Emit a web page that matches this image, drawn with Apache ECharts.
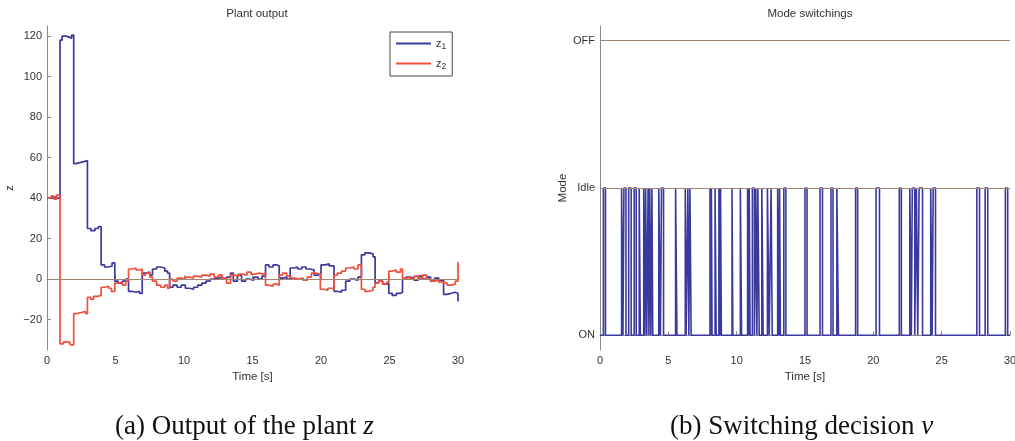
<!DOCTYPE html>
<html><head><meta charset="utf-8">
<script src="https://cdn.jsdelivr.net/npm/echarts@6/dist/echarts.min.js"></script>
<style>html,body{margin:0;padding:0;background:#fff}#c{width:1015px;height:441px}</style>
</head><body><div id="c"></div>
<script>
// ---- Plant output z1 (time [s], value) ----
const z1Time = [0,0.3,0.6,0.95,1.1,1.4,1.6,1.8,1.95,2.1,2.4,2.7,2.95,3.2,3.5,3.75,3.95,4.2,4.5,4.75,4.95,5.2,5.5,5.75,5.95,6.2,6.5,6.75,6.95,7.2,7.5,7.7,8.0,8.3,8.6,8.8,8.95,9.2,9.5,9.8,10.1,10.4,10.7,11.0,11.3,11.6,11.9,12.2,12.5,12.8,13.1,13.4,13.6,13.9,14.2,14.5,14.8,15.1,15.4,15.7,15.95,16.2,16.5,16.8,16.95,17.2,17.5,17.75,18.0,18.3,18.6,18.9,19.2,19.5,19.8,20.0,20.3,20.6,20.95,21.2,21.5,21.8,22.1,22.4,22.7,22.95,23.2,23.5,23.8,23.95,24.2,24.5,24.8,24.95,25.2,25.5,25.8,25.95,26.2,26.5,26.8,27.1,27.4,27.7,28.0,28.3,28.6,28.95,29.2,29.5,29.75,30];
const z1Vals = [40,40.5,39.8,118,120,119.5,119,120.5,57,57.5,58,58.5,25,24,25,26,7,6,6.5,8,-1,-2,-1,0,-6,-6.5,-6,-7,3,3.5,2,5,6,5.5,4,3,-4,-3,-4,-3,-4.5,-5,-4,-3,-2,-1,0,0.5,1,0,1,3,-1,2,-1,0,-0.5,1,0,1.5,7,6,7,6.5,0.5,1,0,5.5,6,5,6,5,4.5,2,2.5,7,7.5,6.5,-6,-6.5,-5.5,-1,0,-0.5,1,12,13,12.5,11,-2,-1,-2.5,-2,-7,-8,-7,-6.5,0,1,0.5,-0.5,1.5,0,1,-1,0.5,-0.5,-7.5,-7,-6.5,-7,-11];
// ---- Plant output z2 ----
const z2Time = [0,0.3,0.5,0.7,0.95,1.2,1.5,1.7,1.95,2.2,2.5,2.8,2.95,3.2,3.4,3.7,3.95,4.2,4.5,4.7,4.95,5.2,5.5,5.75,5.95,6.2,6.5,6.8,6.95,7.2,7.5,7.7,8.0,8.3,8.6,8.8,8.95,9.2,9.5,9.8,10.1,10.4,10.7,11.0,11.3,11.6,11.9,12.2,12.5,12.8,13.1,13.4,13.7,14.0,14.3,14.6,14.9,15.2,15.5,15.8,15.95,16.2,16.5,16.8,16.95,17.2,17.5,17.8,18.1,18.4,18.7,19.0,19.3,19.6,19.95,20.2,20.5,20.8,20.95,21.2,21.5,21.8,22.1,22.4,22.7,22.95,23.2,23.5,23.8,23.95,24.2,24.5,24.8,24.95,25.2,25.5,25.8,25.95,26.2,26.5,26.8,27.1,27.4,27.7,28.0,28.3,28.6,28.95,29.2,29.5,29.8,30];
const z2Vals = [40,41,39.5,41.5,-32,-31,-31.5,-32.5,-17,-16.5,-16,-17,-9,-10,-8.5,-8,-4,-3.5,-4.5,-6,-2,-1.5,-3,-1,5,5.5,4.5,5,2,3,1,-1,-3,-4,-3,-4.5,0,-1,0.5,0,1,0.5,1.5,1,2,1.5,2.5,1,2,0.5,-2,2,1.5,2.5,2,3.5,2.5,3,2.5,3,-3,-3.5,-2.5,-3,2,3,1.5,0.5,0,0.5,-0.5,1,3,2.5,-5,-5.5,-4.5,-5,2,3,4,5.5,6,5,7,-5,-6,-5.5,-4,-2,-1,-2.5,-1.5,4,4.5,3.5,5,0.5,1,0,1.5,0.5,2,0,-1,-0.5,-1.5,-2,-3,-2.5,-1,8.5];
// ---- Mode switchings: intervals spent in Idle (otherwise ON) ----
const idleStart = [0.25,1.58,1.75,2.10,2.50,2.87,3.20,3.34,3.52,3.64,3.80,4.30,4.50,5.53,6.24,6.43,6.58,8.05,8.15,8.42,8.70,8.82,9.66,10.27,10.80,10.92,11.15,11.40,11.55,11.84,12.25,12.52,13.00,13.14,13.45,15.00,16.10,16.90,17.33,18.70,20.20,21.90,22.67,22.85,23.15,23.35,24.20,24.38,27.57,28.18,29.66];
const idleEnd   = [0.40,1.68,1.90,2.28,2.65,2.95,3.28,3.42,3.58,3.72,3.86,4.42,4.65,5.63,6.30,6.50,6.67,8.12,8.20,8.50,8.78,8.88,9.72,10.36,10.86,10.98,11.30,11.48,11.65,11.94,12.38,12.60,13.10,13.20,13.60,15.15,16.28,17.05,17.45,18.85,20.45,22.05,22.78,23.03,23.25,23.60,24.30,24.55,27.77,28.37,29.83];
const modeLabels = ['ON','Idle','OFF'];
const zTicks = [-20,0,20,40,60,80,100,120];

const pair = (t, v) => t.map((x, i) => [x, v[i]]);
const modeData = [[0, 0]];
idleStart.forEach((s, i) => { modeData.push([s, 1]); modeData.push([idleEnd[i], 0]); });
modeData.push([30, 0]);

const FONT = 'Liberation Sans';
const BLUE = '#3a3a9e', RED = '#f0503c', REF = '#a08672', AX = '#8a8a8a', TXT = '#333';

const axisCommon = {
  axisLine: { show: true, lineStyle: { color: AX, width: 1 } },
  axisTick: { show: true, inside: true, length: 4, lineStyle: { color: AX } },
  axisLabel: { color: TXT, fontFamily: FONT, fontSize: 11, margin: 5 },
  splitLine: { show: false },
  nameTextStyle: { color: TXT, fontFamily: FONT, fontSize: 11.5 }
};

const chart = echarts.init(document.getElementById('c'), null, { renderer: 'canvas' });
chart.setOption({
  animation: false,
  backgroundColor: '#fff',
  title: [
    { text: 'Plant output', left: 252, top: 3, textAlign: 'center', textStyle: { fontFamily: FONT, fontSize: 11.5, fontWeight: 'normal', color: TXT } },
    { text: 'Mode switchings', left: 805, top: 3, textAlign: 'center', textStyle: { fontFamily: FONT, fontSize: 11.5, fontWeight: 'normal', color: TXT } }
  ],
  grid: [
    { left: 47, right: 557, top: 26, bottom: 91, outerBoundsMode: 'none', containLabel: false },
    { left: 600, right: 5, top: 26, bottom: 91, outerBoundsMode: 'none', containLabel: false }
  ],
  legend: {
    data: ['z1', 'z2'], left: 390, top: 32, orient: 'vertical', icon: 'rect',
    itemWidth: 35, itemHeight: 2, itemGap: 7, padding: [6, 6, 5, 6],
    borderColor: '#444', borderWidth: 1, backgroundColor: '#fff',
    formatter: n => n === 'z1' ? 'z{s|1}' : 'z{s|2}',
    textStyle: { fontFamily: FONT, fontSize: 11, color: TXT, rich: { s: { fontSize: 8.5, verticalAlign: 'bottom', padding: [6, 0, 0, 0], fontFamily: FONT, color: TXT } } }
  },
  xAxis: [
    Object.assign({}, axisCommon, { gridIndex: 0, type: 'value', min: 0, max: 30, interval: 5, name: 'Time [s]', nameLocation: 'middle', nameGap: 15 }),
    Object.assign({}, axisCommon, { gridIndex: 1, type: 'value', min: 0, max: 30, interval: 5, name: 'Time [s]', nameLocation: 'middle', nameGap: 15 })
  ],
  yAxis: [
    Object.assign({}, axisCommon, {
      gridIndex: 0, type: 'value', min: -35, max: 125, name: 'z', nameLocation: 'middle', nameGap: 31,
      axisTick: { show: true, inside: true, length: 4, lineStyle: { color: AX }, customValues: zTicks },
      axisLabel: Object.assign({}, axisCommon.axisLabel, { customValues: zTicks, formatter: v => v < 0 ? '\u2212' + Math.abs(v) : String(v) })
    }),
    Object.assign({}, axisCommon, {
      gridIndex: 1, type: 'value', min: -0.1, max: 2.1, name: 'Mode', nameLocation: 'middle', nameGap: 31,
      axisTick: { show: true, inside: true, length: 4, lineStyle: { color: AX }, customValues: [0, 1, 2] },
      axisLabel: Object.assign({}, axisCommon.axisLabel, { customValues: [0, 1, 2], formatter: v => modeLabels[Math.round(v)] })
    })
  ],
  series: [
    { name: 'zero', type: 'line', xAxisIndex: 0, yAxisIndex: 0, data: [], silent: true,
      markLine: { silent: true, symbol: 'none', label: { show: false }, lineStyle: { color: REF, width: 1, type: 'solid' }, data: [{ yAxis: 0 }] } },
    { name: 'z1', type: 'line', xAxisIndex: 0, yAxisIndex: 0, step: 'end', showSymbol: false, symbol: 'none',
      data: pair(z1Time, z1Vals), lineStyle: { color: BLUE, width: 1.7 }, itemStyle: { color: BLUE }, z: 3 },
    { name: 'z2', type: 'line', xAxisIndex: 0, yAxisIndex: 0, step: 'end', showSymbol: false, symbol: 'none',
      data: pair(z2Time, z2Vals), lineStyle: { color: RED, width: 1.7 }, itemStyle: { color: RED }, z: 4 },
    { name: 'mode', type: 'line', xAxisIndex: 1, yAxisIndex: 1, step: 'end', showSymbol: false, symbol: 'none',
      data: modeData, lineStyle: { color: BLUE, width: 1.6 }, itemStyle: { color: BLUE },
      markLine: { silent: true, symbol: 'none', label: { show: false }, lineStyle: { color: REF, width: 1, type: 'solid' }, data: [{ yAxis: 1 }, { yAxis: 2 }] } }
  ],
  graphic: [
    { type: 'text', left: 115, top: 413, style: { text: '(a) Output of the plant {i|z}', font: '27px "Liberation Serif"', fill: '#111',
      rich: { i: { fontStyle: 'italic', fontFamily: 'Liberation Serif', fontSize: 27, fill: '#111' } } } },
    { type: 'text', left: 670, top: 413, style: { text: '(b) Switching decision {i|v}', font: '27px "Liberation Serif"', fill: '#111',
      rich: { i: { fontStyle: 'italic', fontFamily: 'Liberation Serif', fontSize: 27, fill: '#111' } } } }
  ]
});
</script></body></html>
